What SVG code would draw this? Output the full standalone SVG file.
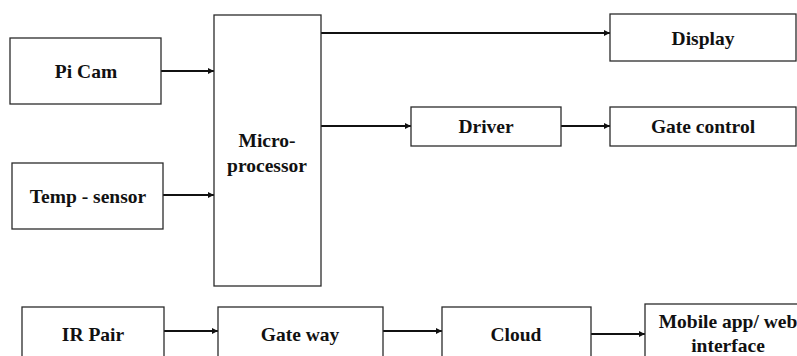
<svg xmlns="http://www.w3.org/2000/svg" width="797" height="356" viewBox="0 0 797 356">
  <defs>
    <style>
      .box { fill: #ffffff; stroke: #2b2b2b; stroke-width: 1.3; }
      .lbl { font-family: "Liberation Serif", "Times New Roman", serif; font-weight: bold; font-size: 19.5px; fill: #111111; text-anchor: middle; }
      .wire { fill: none; stroke: #111111; stroke-width: 2; marker-end: url(#head); }
    </style>
    <marker id="head" viewBox="0 0 6 6" refX="6" refY="3" markerWidth="3" markerHeight="3" orient="auto" markerUnits="strokeWidth">
      <path d="M0,0 L6,3 L0,6 Z" fill="#111111"/>
    </marker>
  </defs>

  <rect width="797" height="356" fill="#ffffff"/>

  <g id="connectors">
    <line class="wire" x1="161" y1="71" x2="214" y2="71"/>
    <line class="wire" x1="163" y1="195" x2="214" y2="195"/>
    <line class="wire" x1="321" y1="33" x2="610" y2="33"/>
    <line class="wire" x1="321" y1="126" x2="411" y2="126"/>
    <line class="wire" x1="561" y1="126" x2="610" y2="126"/>
    <line class="wire" x1="164" y1="331" x2="218" y2="331"/>
    <line class="wire" x1="383" y1="331" x2="442" y2="331"/>
    <line class="wire" x1="591" y1="334" x2="645" y2="334"/>
  </g>

  <g id="picam">
    <rect class="box" x="10" y="38" width="151" height="66"/>
    <text class="lbl" x="86" y="78">Pi Cam</text>
  </g>

  <g id="tempsensor">
    <rect class="box" x="12" y="163" width="151" height="66"/>
    <text class="lbl" x="88" y="203">Temp - sensor</text>
  </g>

  <g id="microprocessor">
    <rect class="box" x="214" y="15" width="107" height="271"/>
    <text class="lbl" x="267" y="147">Micro-</text>
    <text class="lbl" x="267" y="172">processor</text>
  </g>

  <g id="display">
    <rect class="box" x="610" y="14" width="186" height="47"/>
    <text class="lbl" x="703" y="45">Display</text>
  </g>

  <g id="driver">
    <rect class="box" x="411" y="107" width="150" height="39"/>
    <text class="lbl" x="486" y="133">Driver</text>
  </g>

  <g id="gatecontrol">
    <rect class="box" x="610" y="107" width="186" height="39"/>
    <text class="lbl" x="703" y="133">Gate control</text>
  </g>

  <g id="irpair">
    <rect class="box" x="22" y="307" width="142" height="60"/>
    <text class="lbl" x="93" y="341">IR Pair</text>
  </g>

  <g id="gateway">
    <rect class="box" x="218" y="307" width="165" height="60"/>
    <text class="lbl" x="300" y="341">Gate way</text>
  </g>

  <g id="cloud">
    <rect class="box" x="442" y="307" width="149" height="60"/>
    <text class="lbl" x="516" y="341">Cloud</text>
  </g>

  <g id="mobileapp">
    <rect class="box" x="645" y="304" width="170" height="63"/>
    <text class="lbl" x="728" y="328">Mobile app/ web</text>
    <text class="lbl" x="728" y="352">interface</text>
  </g>
</svg>
